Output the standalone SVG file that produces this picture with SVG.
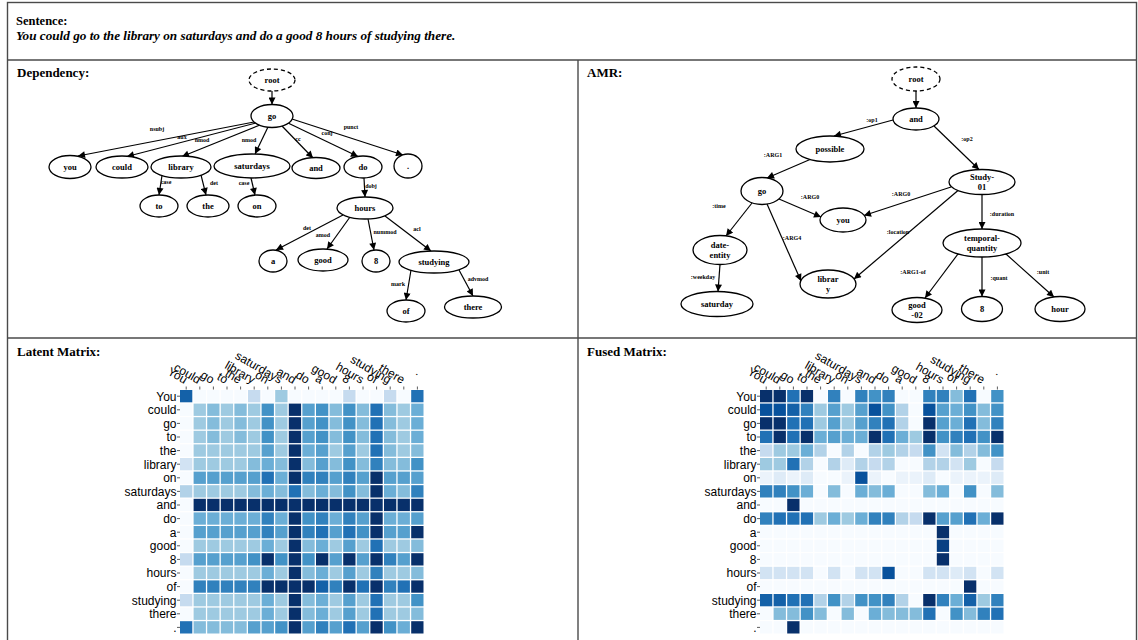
<svg xmlns="http://www.w3.org/2000/svg" width="1138" height="640" viewBox="0 0 1138 640">
<style>
.frame{fill:none;stroke:#4a4a4a;stroke-width:1.4}
.ti{font-family:"Liberation Serif",serif;font-weight:bold;font-size:13px}
.se{font-family:"Liberation Serif",serif;font-weight:bold;font-size:12.5px}
.it{font-style:italic;font-size:13.2px}
.nd ellipse{fill:#fff;stroke:#000;stroke-width:1.3}
.nd ellipse.dash{stroke-dasharray:4 3}
.nt{font-family:"Liberation Serif",serif;font-weight:bold;font-size:8.5px;text-anchor:middle;fill:#000}
.el{font-family:"Liberation Serif",serif;font-weight:bold;font-size:6px;text-anchor:middle;fill:#000}
.edges line{stroke:#000;stroke-width:1.2;marker-end:url(#ar)}
.ax{font-family:"Liberation Sans",Arial,sans-serif;font-size:12px;fill:#000}
.rl{text-anchor:end}
.cl{text-anchor:end}
.tk{stroke:#333;stroke-width:0.8;fill:none}
.mx rect{width:12.3px;height:12.3px}
.mx .a{fill:#f7fbff}.mx .b{fill:#ebf3fb}.mx .c{fill:#deebf7}.mx .d{fill:#d2e3f3}
.mx .e{fill:#c6dbef}.mx .f{fill:#b2d2e8}.mx .g{fill:#9ecae1}.mx .h{fill:#84bcdb}
.mx .i{fill:#6baed6}.mx .j{fill:#56a0ce}.mx .k{fill:#4292c6}.mx .l{fill:#3181bd}
.mx .m{fill:#2171b5}.mx .n{fill:#1461a8}.mx .o{fill:#08519c}.mx .p{fill:#084083}.mx .q{fill:#08306b}
</style>
<defs>
<marker id="ar" viewBox="0 0 10 10" refX="10" refY="5" markerWidth="8" markerHeight="7" markerUnits="userSpaceOnUse" orient="auto"><path d="M0,0L10,5L0,10z" fill="#000"/></marker>
</defs>
<rect width="1138" height="640" fill="#fff"/>
<g id="frames">
<rect class="frame" x="7.5" y="2.5" width="1129" height="660"/>
<line class="frame" x1="7.5" y1="60" x2="1136.5" y2="60"/>
<line class="frame" x1="7.5" y1="338" x2="1136.5" y2="338"/>
<line class="frame" x1="578" y1="60" x2="578" y2="640"/>
</g>
<g id="titles">
<text class="se" x="16" y="25">Sentence:</text>
<text class="se it" x="16" y="40">You could go to the library on saturdays and do a good 8 hours of studying there.</text>
<text class="ti" x="17" y="77">Dependency:</text>
<text class="ti" x="587" y="77">AMR:</text>
<text class="ti" x="17" y="356">Latent Matrix:</text>
<text class="ti" x="587" y="356">Fused Matrix:</text>
</g>

<!-- Dependency tree -->
<g id="dep-edges" class="edges">
<line x1="272" y1="91" x2="272" y2="104.5"/>
<line x1="254" y1="122" x2="78" y2="156"/>
<line x1="256" y1="123" x2="127" y2="156.5"/>
<line x1="260" y1="125" x2="182" y2="156.5"/>
<line x1="268" y1="127" x2="255" y2="154"/>
<line x1="282" y1="126" x2="313" y2="158"/>
<line x1="288" y1="123" x2="358" y2="156.5"/>
<line x1="292" y1="119" x2="403" y2="155"/>
<line x1="162" y1="175.5" x2="159" y2="195"/>
<line x1="201" y1="175" x2="206" y2="195"/>
<line x1="251" y1="178" x2="255" y2="195"/>
<line x1="364" y1="178" x2="365" y2="197"/>
<line x1="343" y1="215" x2="276" y2="250"/>
<line x1="350" y1="217" x2="327" y2="249"/>
<line x1="368" y1="219" x2="374" y2="250"/>
<line x1="385" y1="216" x2="431" y2="251"/>
<line x1="411" y1="270" x2="406" y2="300"/>
<line x1="459" y1="270" x2="473" y2="296"/>
<text class="el" x="157" y="131">nsubj</text>
<text class="el" x="182" y="139">aux</text>
<text class="el" x="202" y="142">nmod</text>
<text class="el" x="249" y="142">nmod</text>
<text class="el" x="298" y="141">cc</text>
<text class="el" x="327" y="135">conj</text>
<text class="el" x="351" y="129">punct</text>
<text class="el" x="166" y="184">case</text>
<text class="el" x="214" y="185">det</text>
<text class="el" x="244" y="185">case</text>
<text class="el" x="371" y="188">dobj</text>
<text class="el" x="307" y="230">det</text>
<text class="el" x="323" y="237">amod</text>
<text class="el" x="385" y="234">nummod</text>
<text class="el" x="417" y="231">acl</text>
<text class="el" x="398" y="286">mark</text>
<text class="el" x="478" y="281">advmod</text>
</g>
<g id="dep-root" class="nd"><ellipse class="dash" cx="272" cy="80" rx="23" ry="11"/><text class="nt" x="272" y="83">root</text></g>
<g id="dep-go" class="nd"><ellipse cx="272" cy="116" rx="21" ry="11.5"/><text class="nt" x="272" y="119">go</text></g>
<g id="dep-you" class="nd"><ellipse cx="70" cy="167" rx="21" ry="11.5"/><text class="nt" x="70" y="170">you</text></g>
<g id="dep-could" class="nd"><ellipse cx="122" cy="167" rx="26" ry="11"/><text class="nt" x="122" y="170">could</text></g>
<g id="dep-library" class="nd"><ellipse cx="181" cy="167" rx="30" ry="11"/><text class="nt" x="181" y="170">library</text></g>
<g id="dep-saturdays" class="nd"><ellipse cx="252" cy="166" rx="38" ry="12"/><text class="nt" x="252" y="169">saturdays</text></g>
<g id="dep-and" class="nd"><ellipse cx="316" cy="168" rx="24" ry="10.5"/><text class="nt" x="316" y="171">and</text></g>
<g id="dep-do" class="nd"><ellipse cx="363" cy="167" rx="19" ry="11"/><text class="nt" x="363" y="170">do</text></g>
<g id="dep-punct" class="nd"><ellipse cx="408" cy="166" rx="14" ry="12"/><text class="nt" x="408" y="169">.</text></g>
<g id="dep-to" class="nd"><ellipse cx="159" cy="206" rx="19" ry="11"/><text class="nt" x="159" y="209">to</text></g>
<g id="dep-the" class="nd"><ellipse cx="208" cy="206" rx="21" ry="11"/><text class="nt" x="208" y="209">the</text></g>
<g id="dep-on" class="nd"><ellipse cx="257" cy="206" rx="19" ry="11"/><text class="nt" x="257" y="209">on</text></g>
<g id="dep-hours" class="nd"><ellipse cx="365" cy="208" rx="28" ry="11"/><text class="nt" x="365" y="211">hours</text></g>
<g id="dep-a" class="nd"><ellipse cx="273" cy="261" rx="14" ry="11"/><text class="nt" x="273" y="264">a</text></g>
<g id="dep-good" class="nd"><ellipse cx="323" cy="260" rx="25" ry="11"/><text class="nt" x="323" y="263">good</text></g>
<g id="dep-8" class="nd"><ellipse cx="376" cy="261" rx="14" ry="11"/><text class="nt" x="376" y="264">8</text></g>
<g id="dep-studying" class="nd"><ellipse cx="434" cy="262" rx="35" ry="11"/><text class="nt" x="434" y="265">studying</text></g>
<g id="dep-of" class="nd"><ellipse cx="406" cy="311" rx="19" ry="11"/><text class="nt" x="406" y="314">of</text></g>
<g id="dep-there" class="nd"><ellipse cx="473" cy="307" rx="28.5" ry="11"/><text class="nt" x="473" y="310">there</text></g>

<!-- AMR graph -->
<g id="amr-edges" class="edges">
<line x1="916" y1="91" x2="916" y2="108"/>
<line x1="893" y1="120" x2="834" y2="136"/>
<line x1="934" y1="126" x2="979" y2="169.5"/>
<line x1="810" y1="159.5" x2="767" y2="178"/>
<line x1="779" y1="199" x2="821" y2="217"/>
<line x1="752" y1="203" x2="726" y2="236"/>
<line x1="767" y1="204" x2="801" y2="281"/>
<line x1="951" y1="187" x2="864" y2="215.5"/>
<line x1="958" y1="190.5" x2="854" y2="279"/>
<line x1="982" y1="194.5" x2="982" y2="229"/>
<line x1="958" y1="254" x2="925" y2="298"/>
<line x1="982" y1="257" x2="982" y2="296.5"/>
<line x1="1006" y1="254" x2="1054" y2="297"/>
<line x1="720" y1="264.5" x2="718" y2="291.5"/>
<text class="el" x="872" y="122">:op1</text>
<text class="el" x="967" y="141">:op2</text>
<text class="el" x="773" y="157">:ARG1</text>
<text class="el" x="810" y="199">:ARG0</text>
<text class="el" x="719" y="208">:time</text>
<text class="el" x="792" y="240">:ARG4</text>
<text class="el" x="901" y="196">:ARG0</text>
<text class="el" x="898" y="234">:location</text>
<text class="el" x="1002" y="216">:duration</text>
<text class="el" x="913" y="274">:ARG1-of</text>
<text class="el" x="999" y="280">:quant</text>
<text class="el" x="1043" y="274">:unit</text>
<text class="el" x="703" y="279">:weekday</text>
</g>
<g id="amr-root" class="nd"><ellipse class="dash" cx="916" cy="79" rx="24" ry="12"/><text class="nt" x="916" y="82">root</text></g>
<g id="amr-and" class="nd"><ellipse cx="916" cy="119" rx="23" ry="11"/><text class="nt" x="916" y="122">and</text></g>
<g id="amr-possible" class="nd"><ellipse cx="830" cy="149" rx="34" ry="13"/><text class="nt" x="830" y="152">possible</text></g>
<g id="amr-study" class="nd"><ellipse cx="982" cy="182" rx="33" ry="12.5"/><text class="nt" x="982" y="180">Study-</text><text class="nt" x="982" y="190">01</text></g>
<g id="amr-go" class="nd"><ellipse cx="762" cy="191" rx="21" ry="13.5"/><text class="nt" x="762" y="194">go</text></g>
<g id="amr-you" class="nd"><ellipse cx="843" cy="220" rx="23" ry="12"/><text class="nt" x="843" y="223">you</text></g>
<g id="amr-date" class="nd"><ellipse cx="720" cy="250" rx="27" ry="14.5"/><text class="nt" x="720" y="248">date-</text><text class="nt" x="720" y="258">entity</text></g>
<g id="amr-saturday" class="nd"><ellipse cx="717" cy="304" rx="36" ry="12.5"/><text class="nt" x="717" y="307">saturday</text></g>
<g id="amr-library" class="nd"><ellipse cx="828" cy="284" rx="28" ry="14"/><text class="nt" x="828" y="282">librar</text><text class="nt" x="828" y="292">y</text></g>
<g id="amr-temporal" class="nd"><ellipse cx="982" cy="243" rx="39" ry="14"/><text class="nt" x="982" y="241">temporal-</text><text class="nt" x="982" y="251">quantity</text></g>
<g id="amr-good" class="nd"><ellipse cx="917" cy="310" rx="25" ry="12.5"/><text class="nt" x="917" y="308">good</text><text class="nt" x="917" y="318">-02</text></g>
<g id="amr-8" class="nd"><ellipse cx="982" cy="309" rx="20.5" ry="12.5"/><text class="nt" x="982" y="312">8</text></g>
<g id="amr-hour" class="nd"><ellipse cx="1060" cy="309" rx="25" ry="12.5"/><text class="nt" x="1060" y="312">hour</text></g>

<!-- Latent matrix -->
<g id="latent-matrix">
<g class="mx" transform="translate(180,390)">
<g transform="translate(0,0)"><rect x="0" class="n"/><rect x="13.6" class="a"/><rect x="27.2" class="a"/><rect x="40.8" class="a"/><rect x="54.4" class="a"/><rect x="68" class="e"/><rect x="81.6" class="a"/><rect x="95.2" class="g"/><rect x="108.8" class="a"/><rect x="122.4" class="a"/><rect x="136" class="a"/><rect x="149.6" class="a"/><rect x="163.2" class="e"/><rect x="176.8" class="a"/><rect x="190.4" class="a"/><rect x="204" class="e"/><rect x="217.6" class="a"/><rect x="231.2" class="m"/></g>
<g transform="translate(0,13.6)"><rect x="0" class="a"/><rect x="13.6" class="g"/><rect x="27.2" class="h"/><rect x="40.8" class="g"/><rect x="54.4" class="h"/><rect x="68" class="g"/><rect x="81.6" class="k"/><rect x="95.2" class="g"/><rect x="108.8" class="q"/><rect x="122.4" class="j"/><rect x="136" class="k"/><rect x="149.6" class="h"/><rect x="163.2" class="k"/><rect x="176.8" class="h"/><rect x="190.4" class="m"/><rect x="204" class="h"/><rect x="217.6" class="g"/><rect x="231.2" class="i"/></g>
<g transform="translate(0,27.2)"><rect x="0" class="a"/><rect x="13.6" class="g"/><rect x="27.2" class="h"/><rect x="40.8" class="g"/><rect x="54.4" class="h"/><rect x="68" class="g"/><rect x="81.6" class="k"/><rect x="95.2" class="g"/><rect x="108.8" class="q"/><rect x="122.4" class="j"/><rect x="136" class="k"/><rect x="149.6" class="h"/><rect x="163.2" class="k"/><rect x="176.8" class="h"/><rect x="190.4" class="m"/><rect x="204" class="h"/><rect x="217.6" class="g"/><rect x="231.2" class="i"/></g>
<g transform="translate(0,40.8)"><rect x="0" class="a"/><rect x="13.6" class="g"/><rect x="27.2" class="h"/><rect x="40.8" class="g"/><rect x="54.4" class="h"/><rect x="68" class="g"/><rect x="81.6" class="k"/><rect x="95.2" class="g"/><rect x="108.8" class="q"/><rect x="122.4" class="j"/><rect x="136" class="k"/><rect x="149.6" class="h"/><rect x="163.2" class="k"/><rect x="176.8" class="h"/><rect x="190.4" class="m"/><rect x="204" class="h"/><rect x="217.6" class="g"/><rect x="231.2" class="i"/></g>
<g transform="translate(0,54.4)"><rect x="0" class="a"/><rect x="13.6" class="g"/><rect x="27.2" class="g"/><rect x="40.8" class="g"/><rect x="54.4" class="g"/><rect x="68" class="g"/><rect x="81.6" class="j"/><rect x="95.2" class="g"/><rect x="108.8" class="q"/><rect x="122.4" class="i"/><rect x="136" class="j"/><rect x="149.6" class="g"/><rect x="163.2" class="j"/><rect x="176.8" class="g"/><rect x="190.4" class="m"/><rect x="204" class="h"/><rect x="217.6" class="g"/><rect x="231.2" class="h"/></g>
<g transform="translate(0,68)"><rect x="0" class="d"/><rect x="13.6" class="g"/><rect x="27.2" class="g"/><rect x="40.8" class="g"/><rect x="54.4" class="g"/><rect x="68" class="h"/><rect x="81.6" class="i"/><rect x="95.2" class="h"/><rect x="108.8" class="q"/><rect x="122.4" class="h"/><rect x="136" class="j"/><rect x="149.6" class="h"/><rect x="163.2" class="k"/><rect x="176.8" class="h"/><rect x="190.4" class="l"/><rect x="204" class="h"/><rect x="217.6" class="h"/><rect x="231.2" class="k"/></g>
<g transform="translate(0,81.6)"><rect x="0" class="a"/><rect x="13.6" class="j"/><rect x="27.2" class="j"/><rect x="40.8" class="j"/><rect x="54.4" class="j"/><rect x="68" class="j"/><rect x="81.6" class="m"/><rect x="95.2" class="i"/><rect x="108.8" class="q"/><rect x="122.4" class="l"/><rect x="136" class="l"/><rect x="149.6" class="j"/><rect x="163.2" class="l"/><rect x="176.8" class="j"/><rect x="190.4" class="q"/><rect x="204" class="j"/><rect x="217.6" class="j"/><rect x="231.2" class="j"/></g>
<g transform="translate(0,95.2)"><rect x="0" class="f"/><rect x="13.6" class="g"/><rect x="27.2" class="g"/><rect x="40.8" class="g"/><rect x="54.4" class="g"/><rect x="68" class="h"/><rect x="81.6" class="i"/><rect x="95.2" class="h"/><rect x="108.8" class="m"/><rect x="122.4" class="h"/><rect x="136" class="i"/><rect x="149.6" class="h"/><rect x="163.2" class="k"/><rect x="176.8" class="h"/><rect x="190.4" class="q"/><rect x="204" class="i"/><rect x="217.6" class="h"/><rect x="231.2" class="l"/></g>
<g transform="translate(0,108.8)"><rect x="0" class="a"/><rect x="13.6" class="q"/><rect x="27.2" class="q"/><rect x="40.8" class="q"/><rect x="54.4" class="q"/><rect x="68" class="q"/><rect x="81.6" class="q"/><rect x="95.2" class="q"/><rect x="108.8" class="q"/><rect x="122.4" class="q"/><rect x="136" class="q"/><rect x="149.6" class="q"/><rect x="163.2" class="q"/><rect x="176.8" class="q"/><rect x="190.4" class="q"/><rect x="204" class="q"/><rect x="217.6" class="q"/><rect x="231.2" class="q"/></g>
<g transform="translate(0,122.4)"><rect x="0" class="a"/><rect x="13.6" class="i"/><rect x="27.2" class="i"/><rect x="40.8" class="i"/><rect x="54.4" class="i"/><rect x="68" class="i"/><rect x="81.6" class="l"/><rect x="95.2" class="i"/><rect x="108.8" class="q"/><rect x="122.4" class="k"/><rect x="136" class="l"/><rect x="149.6" class="i"/><rect x="163.2" class="l"/><rect x="176.8" class="j"/><rect x="190.4" class="q"/><rect x="204" class="i"/><rect x="217.6" class="i"/><rect x="231.2" class="j"/></g>
<g transform="translate(0,136)"><rect x="0" class="a"/><rect x="13.6" class="j"/><rect x="27.2" class="j"/><rect x="40.8" class="j"/><rect x="54.4" class="j"/><rect x="68" class="j"/><rect x="81.6" class="l"/><rect x="95.2" class="j"/><rect x="108.8" class="q"/><rect x="122.4" class="l"/><rect x="136" class="m"/><rect x="149.6" class="j"/><rect x="163.2" class="m"/><rect x="176.8" class="k"/><rect x="190.4" class="q"/><rect x="204" class="j"/><rect x="217.6" class="j"/><rect x="231.2" class="q"/></g>
<g transform="translate(0,149.6)"><rect x="0" class="a"/><rect x="13.6" class="g"/><rect x="27.2" class="g"/><rect x="40.8" class="g"/><rect x="54.4" class="g"/><rect x="68" class="g"/><rect x="81.6" class="i"/><rect x="95.2" class="g"/><rect x="108.8" class="q"/><rect x="122.4" class="h"/><rect x="136" class="i"/><rect x="149.6" class="g"/><rect x="163.2" class="j"/><rect x="176.8" class="g"/><rect x="190.4" class="m"/><rect x="204" class="g"/><rect x="217.6" class="g"/><rect x="231.2" class="h"/></g>
<g transform="translate(0,163.2)"><rect x="0" class="e"/><rect x="13.6" class="j"/><rect x="27.2" class="j"/><rect x="40.8" class="j"/><rect x="54.4" class="j"/><rect x="68" class="k"/><rect x="81.6" class="q"/><rect x="95.2" class="k"/><rect x="108.8" class="q"/><rect x="122.4" class="k"/><rect x="136" class="q"/><rect x="149.6" class="j"/><rect x="163.2" class="q"/><rect x="176.8" class="j"/><rect x="190.4" class="q"/><rect x="204" class="l"/><rect x="217.6" class="j"/><rect x="231.2" class="q"/></g>
<g transform="translate(0,176.8)"><rect x="0" class="a"/><rect x="13.6" class="g"/><rect x="27.2" class="g"/><rect x="40.8" class="g"/><rect x="54.4" class="g"/><rect x="68" class="g"/><rect x="81.6" class="i"/><rect x="95.2" class="g"/><rect x="108.8" class="q"/><rect x="122.4" class="h"/><rect x="136" class="i"/><rect x="149.6" class="g"/><rect x="163.2" class="j"/><rect x="176.8" class="g"/><rect x="190.4" class="l"/><rect x="204" class="g"/><rect x="217.6" class="g"/><rect x="231.2" class="h"/></g>
<g transform="translate(0,190.4)"><rect x="0" class="a"/><rect x="13.6" class="l"/><rect x="27.2" class="l"/><rect x="40.8" class="l"/><rect x="54.4" class="l"/><rect x="68" class="l"/><rect x="81.6" class="q"/><rect x="95.2" class="q"/><rect x="108.8" class="q"/><rect x="122.4" class="q"/><rect x="136" class="n"/><rect x="149.6" class="l"/><rect x="163.2" class="q"/><rect x="176.8" class="m"/><rect x="190.4" class="q"/><rect x="204" class="l"/><rect x="217.6" class="m"/><rect x="231.2" class="q"/></g>
<g transform="translate(0,204)"><rect x="0" class="e"/><rect x="13.6" class="g"/><rect x="27.2" class="g"/><rect x="40.8" class="g"/><rect x="54.4" class="g"/><rect x="68" class="g"/><rect x="81.6" class="i"/><rect x="95.2" class="g"/><rect x="108.8" class="q"/><rect x="122.4" class="h"/><rect x="136" class="i"/><rect x="149.6" class="g"/><rect x="163.2" class="j"/><rect x="176.8" class="g"/><rect x="190.4" class="m"/><rect x="204" class="g"/><rect x="217.6" class="g"/><rect x="231.2" class="k"/></g>
<g transform="translate(0,217.6)"><rect x="0" class="a"/><rect x="13.6" class="g"/><rect x="27.2" class="g"/><rect x="40.8" class="g"/><rect x="54.4" class="g"/><rect x="68" class="g"/><rect x="81.6" class="i"/><rect x="95.2" class="g"/><rect x="108.8" class="q"/><rect x="122.4" class="h"/><rect x="136" class="i"/><rect x="149.6" class="g"/><rect x="163.2" class="j"/><rect x="176.8" class="g"/><rect x="190.4" class="m"/><rect x="204" class="g"/><rect x="217.6" class="g"/><rect x="231.2" class="h"/></g>
<g transform="translate(0,231.2)"><rect x="0" class="m"/><rect x="13.6" class="h"/><rect x="27.2" class="h"/><rect x="40.8" class="h"/><rect x="54.4" class="h"/><rect x="68" class="j"/><rect x="81.6" class="j"/><rect x="95.2" class="k"/><rect x="108.8" class="q"/><rect x="122.4" class="j"/><rect x="136" class="l"/><rect x="149.6" class="j"/><rect x="163.2" class="m"/><rect x="176.8" class="j"/><rect x="190.4" class="q"/><rect x="204" class="k"/><rect x="217.6" class="i"/><rect x="231.2" class="q"/></g>
</g>
<path class="tk" d="M177,396.2h3M177,409.8h3M177,423.4h3M177,437h3M177,450.6h3M177,464.2h3M177,477.8h3M177,491.4h3M177,505h3M177,518.6h3M177,532.2h3M177,545.8h3M177,559.4h3M177,573h3M177,586.6h3M177,600.2h3M177,613.8h3M177,627.4h3M186.2,386.5v3M199.8,386.5v3M213.4,386.5v3M227,386.5v3M240.6,386.5v3M254.2,386.5v3M267.8,386.5v3M281.4,386.5v3M295,386.5v3M308.6,386.5v3M322.2,386.5v3M335.8,386.5v3M349.4,386.5v3M363,386.5v3M376.6,386.5v3M390.2,386.5v3M403.8,386.5v3M417.4,386.5v3"/>
<g class="ax rl">
<text x="176.5" y="400.5">You</text><text x="176.5" y="414.1">could</text><text x="176.5" y="427.7">go</text><text x="176.5" y="441.3">to</text><text x="176.5" y="454.9">the</text><text x="176.5" y="468.5">library</text><text x="176.5" y="482.1">on</text><text x="176.5" y="495.7">saturdays</text><text x="176.5" y="509.3">and</text><text x="176.5" y="522.9">do</text><text x="176.5" y="536.5">a</text><text x="176.5" y="550.1">good</text><text x="176.5" y="563.7">8</text><text x="176.5" y="577.3">hours</text><text x="176.5" y="590.9">of</text><text x="176.5" y="604.5">studying</text><text x="176.5" y="618.1">there</text><text x="176.5" y="631.7">.</text>
</g>
<g class="ax cl">
<text transform="translate(184.2,384) rotate(30)">You</text><text transform="translate(197.8,384) rotate(30)">could</text><text transform="translate(211.4,384) rotate(30)">go</text><text transform="translate(225,384) rotate(30)">to</text><text transform="translate(238.6,384) rotate(30)">the</text><text transform="translate(252.2,384) rotate(30)">library</text><text transform="translate(265.8,384) rotate(30)">on</text><text transform="translate(279.4,384) rotate(30)">saturdays</text><text transform="translate(293,384) rotate(30)">and</text><text transform="translate(306.6,384) rotate(30)">do</text><text transform="translate(320.2,384) rotate(30)">a</text><text transform="translate(333.8,384) rotate(30)">good</text><text transform="translate(347.4,384) rotate(30)">8</text><text transform="translate(361,384) rotate(30)">hours</text><text transform="translate(374.6,384) rotate(30)">of</text><text transform="translate(388.2,384) rotate(30)">studying</text><text transform="translate(401.8,384) rotate(30)">there</text><text transform="translate(418,376) rotate(30)">.</text>
</g>
</g>

<!-- Fused matrix -->
<g id="fused-matrix">
<g class="mx" transform="translate(760,390)">
<g transform="translate(0,0)"><rect x="0" class="q"/><rect x="13.6" class="q"/><rect x="27.2" class="m"/><rect x="40.8" class="q"/><rect x="54.4" class="a"/><rect x="68" class="l"/><rect x="81.6" class="a"/><rect x="95.2" class="l"/><rect x="108.8" class="k"/><rect x="122.4" class="l"/><rect x="136" class="a"/><rect x="149.6" class="a"/><rect x="163.2" class="l"/><rect x="176.8" class="l"/><rect x="190.4" class="h"/><rect x="204" class="m"/><rect x="217.6" class="a"/><rect x="231.2" class="k"/></g>
<g transform="translate(0,13.6)"><rect x="0" class="o"/><rect x="13.6" class="o"/><rect x="27.2" class="n"/><rect x="40.8" class="l"/><rect x="54.4" class="g"/><rect x="68" class="j"/><rect x="81.6" class="g"/><rect x="95.2" class="j"/><rect x="108.8" class="o"/><rect x="122.4" class="k"/><rect x="136" class="f"/><rect x="149.6" class="a"/><rect x="163.2" class="o"/><rect x="176.8" class="j"/><rect x="190.4" class="i"/><rect x="204" class="k"/><rect x="217.6" class="h"/><rect x="231.2" class="k"/></g>
<g transform="translate(0,27.2)"><rect x="0" class="q"/><rect x="13.6" class="q"/><rect x="27.2" class="m"/><rect x="40.8" class="m"/><rect x="54.4" class="g"/><rect x="68" class="j"/><rect x="81.6" class="g"/><rect x="95.2" class="j"/><rect x="108.8" class="l"/><rect x="122.4" class="m"/><rect x="136" class="f"/><rect x="149.6" class="a"/><rect x="163.2" class="q"/><rect x="176.8" class="j"/><rect x="190.4" class="i"/><rect x="204" class="m"/><rect x="217.6" class="h"/><rect x="231.2" class="l"/></g>
<g transform="translate(0,40.8)"><rect x="0" class="m"/><rect x="13.6" class="q"/><rect x="27.2" class="m"/><rect x="40.8" class="q"/><rect x="54.4" class="i"/><rect x="68" class="j"/><rect x="81.6" class="i"/><rect x="95.2" class="i"/><rect x="108.8" class="q"/><rect x="122.4" class="m"/><rect x="136" class="i"/><rect x="149.6" class="g"/><rect x="163.2" class="q"/><rect x="176.8" class="k"/><rect x="190.4" class="l"/><rect x="204" class="m"/><rect x="217.6" class="k"/><rect x="231.2" class="q"/></g>
<g transform="translate(0,54.4)"><rect x="0" class="e"/><rect x="13.6" class="g"/><rect x="27.2" class="g"/><rect x="40.8" class="i"/><rect x="54.4" class="f"/><rect x="68" class="a"/><rect x="81.6" class="f"/><rect x="95.2" class="a"/><rect x="108.8" class="f"/><rect x="122.4" class="g"/><rect x="136" class="f"/><rect x="149.6" class="e"/><rect x="163.2" class="k"/><rect x="176.8" class="d"/><rect x="190.4" class="h"/><rect x="204" class="f"/><rect x="217.6" class="h"/><rect x="231.2" class="k"/></g>
<g transform="translate(0,68)"><rect x="0" class="g"/><rect x="13.6" class="g"/><rect x="27.2" class="m"/><rect x="40.8" class="f"/><rect x="54.4" class="a"/><rect x="68" class="f"/><rect x="81.6" class="c"/><rect x="95.2" class="f"/><rect x="108.8" class="e"/><rect x="122.4" class="f"/><rect x="136" class="a"/><rect x="149.6" class="a"/><rect x="163.2" class="f"/><rect x="176.8" class="f"/><rect x="190.4" class="d"/><rect x="204" class="g"/><rect x="217.6" class="a"/><rect x="231.2" class="e"/></g>
<g transform="translate(0,81.6)"><rect x="0" class="b"/><rect x="13.6" class="c"/><rect x="27.2" class="b"/><rect x="40.8" class="c"/><rect x="54.4" class="a"/><rect x="68" class="a"/><rect x="81.6" class="b"/><rect x="95.2" class="o"/><rect x="108.8" class="b"/><rect x="122.4" class="a"/><rect x="136" class="b"/><rect x="149.6" class="b"/><rect x="163.2" class="c"/><rect x="176.8" class="a"/><rect x="190.4" class="b"/><rect x="204" class="b"/><rect x="217.6" class="b"/><rect x="231.2" class="c"/></g>
<g transform="translate(0,95.2)"><rect x="0" class="l"/><rect x="13.6" class="l"/><rect x="27.2" class="k"/><rect x="40.8" class="i"/><rect x="54.4" class="a"/><rect x="68" class="h"/><rect x="81.6" class="a"/><rect x="95.2" class="i"/><rect x="108.8" class="h"/><rect x="122.4" class="i"/><rect x="136" class="a"/><rect x="149.6" class="a"/><rect x="163.2" class="h"/><rect x="176.8" class="i"/><rect x="190.4" class="a"/><rect x="204" class="k"/><rect x="217.6" class="a"/><rect x="231.2" class="h"/></g>
<g transform="translate(0,108.8)"><rect x="0" class="a"/><rect x="13.6" class="a"/><rect x="27.2" class="q"/><rect x="40.8" class="a"/><rect x="54.4" class="a"/><rect x="68" class="a"/><rect x="81.6" class="a"/><rect x="95.2" class="a"/><rect x="108.8" class="a"/><rect x="122.4" class="a"/><rect x="136" class="a"/><rect x="149.6" class="a"/><rect x="163.2" class="a"/><rect x="176.8" class="a"/><rect x="190.4" class="a"/><rect x="204" class="a"/><rect x="217.6" class="a"/><rect x="231.2" class="a"/></g>
<g transform="translate(0,122.4)"><rect x="0" class="l"/><rect x="13.6" class="m"/><rect x="27.2" class="m"/><rect x="40.8" class="m"/><rect x="54.4" class="g"/><rect x="68" class="i"/><rect x="81.6" class="g"/><rect x="95.2" class="i"/><rect x="108.8" class="l"/><rect x="122.4" class="l"/><rect x="136" class="f"/><rect x="149.6" class="e"/><rect x="163.2" class="q"/><rect x="176.8" class="j"/><rect x="190.4" class="j"/><rect x="204" class="m"/><rect x="217.6" class="i"/><rect x="231.2" class="q"/></g>
<g transform="translate(0,136)"><rect x="0" class="a"/><rect x="13.6" class="a"/><rect x="27.2" class="a"/><rect x="40.8" class="a"/><rect x="54.4" class="a"/><rect x="68" class="a"/><rect x="81.6" class="a"/><rect x="95.2" class="a"/><rect x="108.8" class="a"/><rect x="122.4" class="a"/><rect x="136" class="a"/><rect x="149.6" class="a"/><rect x="163.2" class="a"/><rect x="176.8" class="q"/><rect x="190.4" class="a"/><rect x="204" class="a"/><rect x="217.6" class="a"/><rect x="231.2" class="a"/></g>
<g transform="translate(0,149.6)"><rect x="0" class="a"/><rect x="13.6" class="a"/><rect x="27.2" class="a"/><rect x="40.8" class="a"/><rect x="54.4" class="a"/><rect x="68" class="a"/><rect x="81.6" class="a"/><rect x="95.2" class="a"/><rect x="108.8" class="a"/><rect x="122.4" class="a"/><rect x="136" class="a"/><rect x="149.6" class="a"/><rect x="163.2" class="a"/><rect x="176.8" class="p"/><rect x="190.4" class="a"/><rect x="204" class="a"/><rect x="217.6" class="a"/><rect x="231.2" class="a"/></g>
<g transform="translate(0,163.2)"><rect x="0" class="a"/><rect x="13.6" class="a"/><rect x="27.2" class="a"/><rect x="40.8" class="a"/><rect x="54.4" class="a"/><rect x="68" class="a"/><rect x="81.6" class="a"/><rect x="95.2" class="a"/><rect x="108.8" class="a"/><rect x="122.4" class="a"/><rect x="136" class="a"/><rect x="149.6" class="a"/><rect x="163.2" class="a"/><rect x="176.8" class="q"/><rect x="190.4" class="a"/><rect x="204" class="a"/><rect x="217.6" class="a"/><rect x="231.2" class="a"/></g>
<g transform="translate(0,176.8)"><rect x="0" class="d"/><rect x="13.6" class="d"/><rect x="27.2" class="d"/><rect x="40.8" class="d"/><rect x="54.4" class="a"/><rect x="68" class="d"/><rect x="81.6" class="a"/><rect x="95.2" class="d"/><rect x="108.8" class="d"/><rect x="122.4" class="o"/><rect x="136" class="a"/><rect x="149.6" class="a"/><rect x="163.2" class="d"/><rect x="176.8" class="d"/><rect x="190.4" class="c"/><rect x="204" class="d"/><rect x="217.6" class="a"/><rect x="231.2" class="d"/></g>
<g transform="translate(0,190.4)"><rect x="0" class="a"/><rect x="13.6" class="a"/><rect x="27.2" class="a"/><rect x="40.8" class="a"/><rect x="54.4" class="a"/><rect x="68" class="a"/><rect x="81.6" class="a"/><rect x="95.2" class="a"/><rect x="108.8" class="a"/><rect x="122.4" class="a"/><rect x="136" class="a"/><rect x="149.6" class="a"/><rect x="163.2" class="a"/><rect x="176.8" class="a"/><rect x="190.4" class="a"/><rect x="204" class="q"/><rect x="217.6" class="a"/><rect x="231.2" class="a"/></g>
<g transform="translate(0,204)"><rect x="0" class="n"/><rect x="13.6" class="n"/><rect x="27.2" class="m"/><rect x="40.8" class="m"/><rect x="54.4" class="f"/><rect x="68" class="k"/><rect x="81.6" class="f"/><rect x="95.2" class="k"/><rect x="108.8" class="k"/><rect x="122.4" class="l"/><rect x="136" class="f"/><rect x="149.6" class="a"/><rect x="163.2" class="q"/><rect x="176.8" class="l"/><rect x="190.4" class="i"/><rect x="204" class="n"/><rect x="217.6" class="g"/><rect x="231.2" class="l"/></g>
<g transform="translate(0,217.6)"><rect x="0" class="a"/><rect x="13.6" class="h"/><rect x="27.2" class="h"/><rect x="40.8" class="k"/><rect x="54.4" class="h"/><rect x="68" class="a"/><rect x="81.6" class="h"/><rect x="95.2" class="a"/><rect x="108.8" class="i"/><rect x="122.4" class="h"/><rect x="136" class="h"/><rect x="149.6" class="h"/><rect x="163.2" class="m"/><rect x="176.8" class="a"/><rect x="190.4" class="k"/><rect x="204" class="h"/><rect x="217.6" class="l"/><rect x="231.2" class="m"/></g>
<g transform="translate(0,231.2)"><rect x="0" class="a"/><rect x="13.6" class="a"/><rect x="27.2" class="q"/><rect x="40.8" class="a"/><rect x="54.4" class="a"/><rect x="68" class="a"/><rect x="81.6" class="a"/><rect x="95.2" class="a"/><rect x="108.8" class="a"/><rect x="122.4" class="a"/><rect x="136" class="a"/><rect x="149.6" class="a"/><rect x="163.2" class="a"/><rect x="176.8" class="a"/><rect x="190.4" class="a"/><rect x="204" class="a"/><rect x="217.6" class="a"/><rect x="231.2" class="a"/></g>
</g>
<path class="tk" d="M757,396.2h3M757,409.8h3M757,423.4h3M757,437h3M757,450.6h3M757,464.2h3M757,477.8h3M757,491.4h3M757,505h3M757,518.6h3M757,532.2h3M757,545.8h3M757,559.4h3M757,573h3M757,586.6h3M757,600.2h3M757,613.8h3M757,627.4h3M766.2,386.5v3M779.8,386.5v3M793.4,386.5v3M807,386.5v3M820.6,386.5v3M834.2,386.5v3M847.8,386.5v3M861.4,386.5v3M875,386.5v3M888.6,386.5v3M902.2,386.5v3M915.8,386.5v3M929.4,386.5v3M943,386.5v3M956.6,386.5v3M970.2,386.5v3M983.8,386.5v3M997.4,386.5v3"/>
<g class="ax rl">
<text x="756.5" y="400.5">You</text><text x="756.5" y="414.1">could</text><text x="756.5" y="427.7">go</text><text x="756.5" y="441.3">to</text><text x="756.5" y="454.9">the</text><text x="756.5" y="468.5">library</text><text x="756.5" y="482.1">on</text><text x="756.5" y="495.7">saturdays</text><text x="756.5" y="509.3">and</text><text x="756.5" y="522.9">do</text><text x="756.5" y="536.5">a</text><text x="756.5" y="550.1">good</text><text x="756.5" y="563.7">8</text><text x="756.5" y="577.3">hours</text><text x="756.5" y="590.9">of</text><text x="756.5" y="604.5">studying</text><text x="756.5" y="618.1">there</text><text x="756.5" y="631.7">.</text>
</g>
<g class="ax cl">
<text transform="translate(764.2,384) rotate(30)">You</text><text transform="translate(777.8,384) rotate(30)">could</text><text transform="translate(791.4,384) rotate(30)">go</text><text transform="translate(805,384) rotate(30)">to</text><text transform="translate(818.6,384) rotate(30)">the</text><text transform="translate(832.2,384) rotate(30)">library</text><text transform="translate(845.8,384) rotate(30)">on</text><text transform="translate(859.4,384) rotate(30)">saturdays</text><text transform="translate(873,384) rotate(30)">and</text><text transform="translate(886.6,384) rotate(30)">do</text><text transform="translate(900.2,384) rotate(30)">a</text><text transform="translate(913.8,384) rotate(30)">good</text><text transform="translate(927.4,384) rotate(30)">8</text><text transform="translate(941,384) rotate(30)">hours</text><text transform="translate(954.6,384) rotate(30)">of</text><text transform="translate(968.2,384) rotate(30)">studying</text><text transform="translate(981.8,384) rotate(30)">there</text><text transform="translate(998,376) rotate(30)">.</text>
</g>
</g>
</svg>
